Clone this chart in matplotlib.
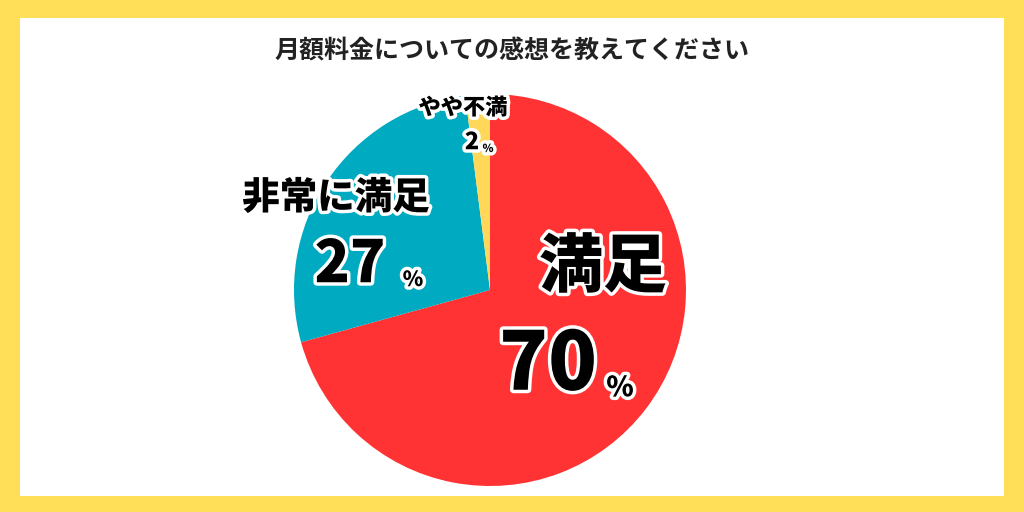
import matplotlib.pyplot as plt
import matplotlib.patheffects as pe
from matplotlib.patches import Rectangle

plt.rcParams['font.family'] = ['Noto Sans CJK JP', 'DejaVu Sans']

# データ
labels = ["満足", "非常に満足", "やや不満"]
values = [70, 27, 2]
colors = ["#FF3333", "#00AAC0", "#FFD85A"]
title = "月額料金についての感想を教えてください"

W, H = 1024, 512
fig = plt.figure(figsize=(W / 100, H / 100), dpi=100, facecolor="#FFDF57")
fig.add_artist(Rectangle((20 / W, 16 / H), 984 / W, 478 / H,
                         transform=fig.transFigure, facecolor="white",
                         edgecolor="none", zorder=-10))

# 円グラフ (中心 490,290 半径 195px)
cx, cy, r = 490, 290, 196
ax = fig.add_axes([(cx - r) / W, (H - cy - r) / H, 2 * r / W, 2 * r / H])
ax.set_zorder(1)
ax.pie(values, colors=colors, startangle=90, counterclock=False,
       wedgeprops=dict(linewidth=0))
ax.set_xlim(-1, 1)
ax.set_ylim(-1, 1)
ax.set_aspect('auto')
ax.axis('off')

fig.text(512 / W, (H - 52) / H, title, ha="center", va="center",
         fontsize=18, fontweight="bold", color="#222222")

stroke = [pe.withStroke(linewidth=5, foreground="white")]


def label(x, y, text, size):
    fig.text(x / W, (H - y) / H, text, ha="center", va="center",
             fontsize=size, fontweight="heavy", color="black",
             path_effects=stroke, zorder=5)


# 満足 70%
label(603, 268, labels[0], 46)
label(548, 366, f"{values[0]}", 58)
label(620, 388, "%", 20)
# 非常に満足 27%
label(336, 198, labels[1], 27)
label(350, 265, f"{values[1]}", 42)
label(413, 280, "%", 15)
# やや不満 2%
label(463, 108, labels[2], 16)
label(472, 142, f"{values[2]}", 17)
label(488, 148, "%", 8)

fig.savefig("out.png", dpi=100, facecolor=fig.get_facecolor())
